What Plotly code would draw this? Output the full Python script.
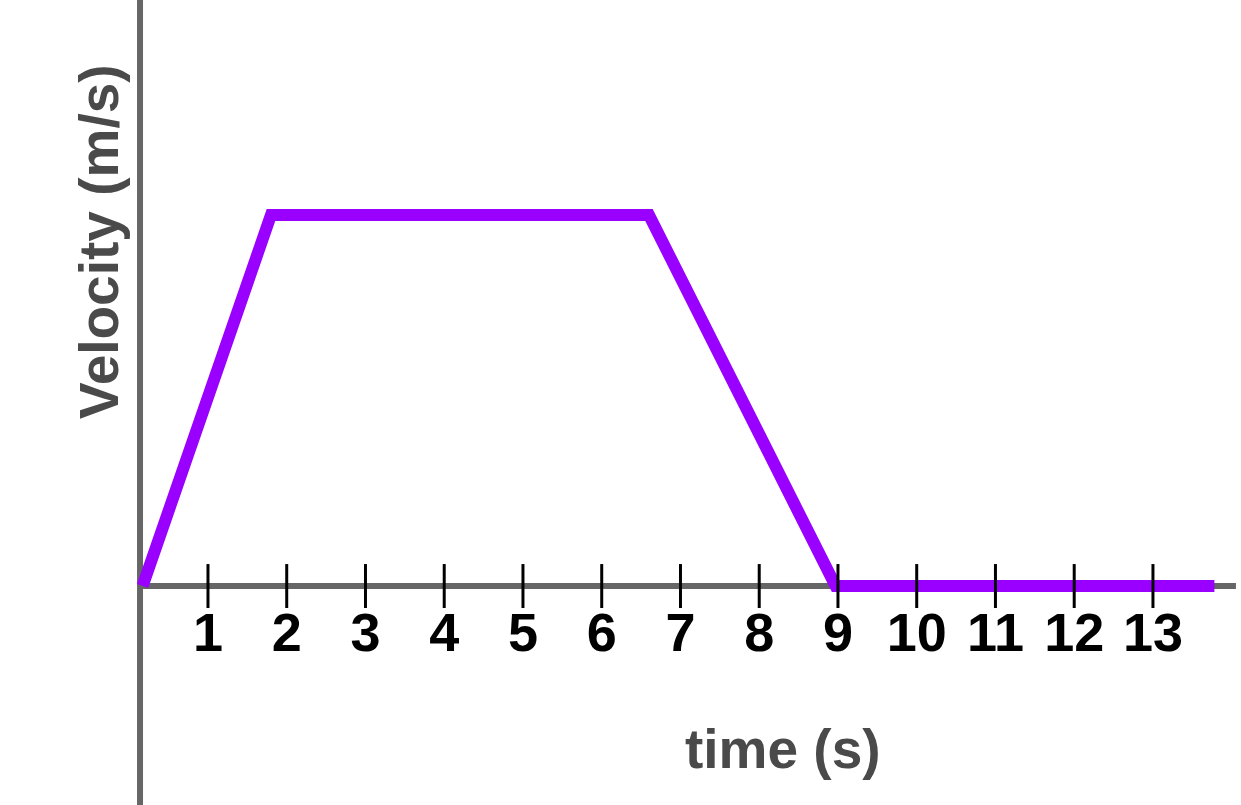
import plotly.graph_objects as go

# Data
time_s = [0.17, 1.8, 6.6, 8.97, 13.78]
velocity = [0, 5, 5, 0, 0]
tick_vals = [1, 2, 3, 4, 5, 6, 7, 8, 9, 10, 11, 12, 13]
tick_text = [str(v) for v in tick_vals]
x_title = "time (s)"
y_title = "Velocity (m/s)"

X_RANGE = [-1.641, 14.118]
Y_RANGE = [-2.951, 7.898]
AXIS_X = 0.137     # time value where the vertical axis sits
AXIS_END = 14.054  # time value where the horizontal axis ends

FONT = "Liberation Sans, Arial, sans-serif"

fig = go.Figure()

fig.add_trace(go.Scatter(
    x=time_s, y=velocity, mode="lines",
    line=dict(color="#9900ff", width=12),
    hoverinfo="skip", showlegend=False,
))

fig.add_trace(go.Scatter(
    x=tick_vals, y=[0] * len(tick_vals), mode="markers",
    marker=dict(symbol="line-ns", size=31.4, color="black",
                line=dict(color="black", width=3)),
    hoverinfo="skip", showlegend=False,
))

shapes = [
    dict(type="line", xref="x", yref="paper", x0=AXIS_X, x1=AXIS_X, y0=0, y1=1,
         line=dict(color="#666666", width=6), layer="below"),
    dict(type="line", xref="x", yref="y", x0=AXIS_X, x1=AXIS_END, y0=0, y1=0,
         line=dict(color="#666666", width=6), layer="below"),
]

annotations = [
    dict(text=x_title, xref="paper", yref="paper", x=783 / 1241, y=1 - 749 / 805,
         xanchor="center", yanchor="middle", showarrow=False,
         font=dict(family=FONT, size=55, color="#4a4a4a", weight="bold")),
    dict(text=y_title, xref="paper", yref="paper", x=99 / 1241, y=1 - 242 / 805,
         xanchor="center", yanchor="middle", showarrow=False, textangle=-90,
         font=dict(family=FONT, size=55, color="#4a4a4a", weight="bold")),
]

fig.update_layout(
    width=1241, height=805,
    margin=dict(l=0, r=0, t=0, b=0),
    paper_bgcolor="white", plot_bgcolor="white",
    shapes=shapes, annotations=annotations,
    xaxis=dict(range=X_RANGE, showgrid=False, zeroline=False, showline=False,
               tickvals=tick_vals, ticktext=tick_text, ticks="",
               anchor="free", position=(805 - 586) / 805,
               ticklabelstandoff=10, automargin=False,
               tickfont=dict(family=FONT, size=54, color="black", weight="bold"),
               fixedrange=True),
    yaxis=dict(range=Y_RANGE, showgrid=False, zeroline=False, showline=False,
               showticklabels=False, ticks="", fixedrange=True, automargin=False),
)

fig.write_html(
    "out.html",
    config={"displayModeBar": False},
    post_script="document.body.style.margin='0';document.body.style.overflow='hidden';",
)
